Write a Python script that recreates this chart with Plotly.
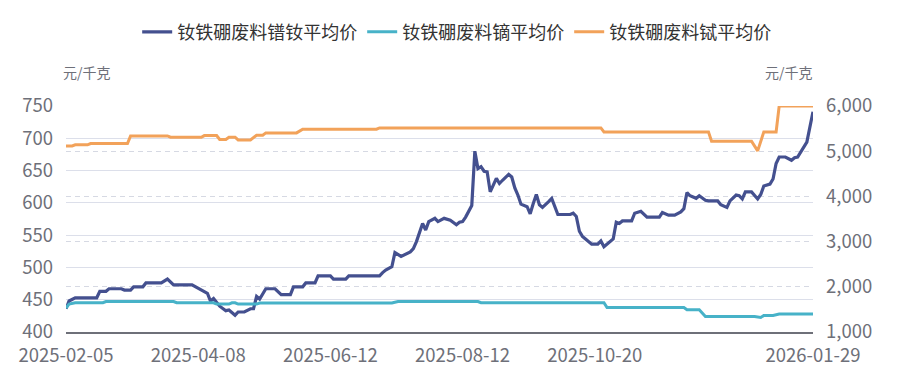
import plotly.graph_objects as go

# ---- data (x = trading-day index) ----
tick_idx = [0, 43, 86, 129, 172, 243]
tick_text = ["2025-02-05", "2025-04-08", "2025-06-12", "2025-08-12", "2025-10-20", "2026-01-29"]

series_names = ["钕铁硼废料镨钕平均价", "钕铁硼废料镝平均价", "钕铁硼废料铽平均价"]

prnd_idx = [0, 1, 3, 10, 11, 13, 14, 18, 19, 21, 22, 25, 26, 31, 33, 35, 41, 44, 46, 47, 48, 50, 52, 53, 55, 56, 58, 60,
            61, 62, 63, 65, 68, 70, 73, 74, 77, 78, 81, 82, 86, 87, 91, 92, 102, 103, 104, 106, 107, 109, 110, 112, 113,
            114, 116, 117, 118, 120, 121, 123, 125, 127, 128, 129, 130, 131, 132, 133, 134, 135, 136, 137, 138, 140, 141,
            142, 144, 145, 146, 147, 148, 150, 151, 152, 153, 154, 155, 157, 158, 160, 164, 165, 166, 167, 168, 169, 171,
            173, 174, 175, 177, 178, 179, 180, 181, 184, 185, 187, 189, 193, 194, 196, 198, 200, 201, 202, 203, 205, 206,
            208, 209, 212, 213, 215, 216, 218, 219, 220, 221, 223, 225, 226, 227, 229, 230, 231, 232, 234, 236, 237, 238,
            240, 241, 243]
prnd_val = [436, 448, 453, 453, 463, 463, 467, 467, 465, 465, 470, 470, 476, 476, 482, 473, 473, 465, 460, 448, 452, 440,
            433, 434, 426, 431, 431, 436, 436, 455, 451, 467, 467, 458, 458, 470, 470, 476, 476, 487, 487, 482, 482, 487,
            487, 492, 496, 501, 523, 517, 519, 524, 529, 540, 568, 558, 571, 576, 571, 576, 573, 566, 570, 571, 578, 586,
            596, 680, 653, 656, 649, 648, 617, 638, 630, 635, 644, 640, 623, 612, 598, 594, 583, 599, 613, 597, 593, 602,
            607, 582, 582, 584, 579, 556, 548, 544, 536, 536, 541, 532, 541, 544, 570, 568, 572, 572, 584, 587, 578, 578,
            585, 581, 581, 586, 591, 616, 611, 607, 611, 604, 603, 603, 597, 593, 603, 612, 611, 606, 617, 617, 606, 613,
            626, 629, 637, 661, 671, 671, 666, 670, 671, 687, 694, 741]

dy_idx = [0, 1, 3, 12, 13, 35, 36, 48, 49, 53, 54, 55, 56, 62, 63, 106, 108, 134, 135, 175, 176, 201, 202, 206, 208,
          224, 226, 227, 230, 232, 243]
dy_val = [1530, 1618, 1647, 1647, 1675, 1675, 1647, 1647, 1618, 1618, 1647, 1647, 1618, 1618, 1640, 1640, 1675, 1675,
          1647, 1647, 1540, 1540, 1492, 1492, 1345, 1345, 1322, 1366, 1366, 1397, 1397]

tb_idx = [0, 2, 3, 7, 8, 20, 21, 33, 34, 44, 45, 49, 50, 52, 53, 55, 56, 60, 62, 64, 65, 75, 77, 101, 102, 174, 175,
          209, 210, 223, 225, 227, 231, 232, 243]
tb_val = [5117, 5117, 5140, 5140, 5170, 5170, 5338, 5338, 5309, 5309, 5346, 5346, 5258, 5258, 5309, 5309, 5250, 5250,
          5354, 5354, 5405, 5405, 5486, 5486, 5515, 5515, 5427, 5427, 5221, 5221, 5007, 5427, 5427, 6000, 6000]

colors = ["#44508f", "#47b2c8", "#f2a25a"]

FONT = "Noto Sans CJK SC, Noto Sans, sans-serif"
AXIS_TXT = "#6e7079"
GRID = "#dcdfea"
GRID2 = "#d6d9e3"

fig = go.Figure()
fig.add_trace(go.Scatter(x=prnd_idx, y=prnd_val, name=series_names[0], mode="lines",
                         line=dict(color=colors[0], width=3.2), yaxis="y"))
fig.add_trace(go.Scatter(x=dy_idx, y=dy_val, name=series_names[1], mode="lines",
                         line=dict(color=colors[1], width=3), yaxis="y2"))
fig.add_trace(go.Scatter(x=tb_idx, y=tb_val, name=series_names[2], mode="lines",
                         line=dict(color=colors[2], width=3), yaxis="y2"))

# the page body adds an 8px offset, so margins are shifted by 8px
fig.update_layout(
    width=915, height=376,
    margin=dict(l=58, r=110, t=98, b=52, autoexpand=False),
    paper_bgcolor="white", plot_bgcolor="white",
    font=dict(family=FONT, size=18.5, color=AXIS_TXT),
    showlegend=True,
    legend=dict(orientation="h", x=0.523, xanchor="center", y=1.327, yanchor="middle",
                font=dict(size=18, color="#333333"), itemwidth=30, traceorder="normal"),
    xaxis=dict(range=[0, 243], tickmode="array", tickvals=tick_idx, ticktext=tick_text,
               showgrid=False, zeroline=False, showline=True, linecolor="#6e7079", linewidth=1.5,
               ticks="", ticklabelstandoff=6, tickfont=dict(size=18.5, color=AXIS_TXT)),
    yaxis=dict(range=[400, 750], dtick=50, tick0=400, showgrid=True, gridcolor=GRID, gridwidth=1.2,
               zeroline=False, showline=False, ticks="", ticklabelstandoff=12,
               tickfont=dict(size=18.5, color=AXIS_TXT)),
    yaxis2=dict(range=[1000, 6000], dtick=1000, tick0=1000, overlaying="y", side="right",
                showgrid=True, gridcolor=GRID2, gridwidth=1.2, griddash="5px,4px",
                zeroline=False, showline=False, ticks="", ticklabelstandoff=12, tickformat=",",
                tickfont=dict(size=18.5, color=AXIS_TXT)),
    annotations=[
        dict(text="元/千克", xref="paper", yref="paper", x=0, y=1.15, xanchor="left", yanchor="middle",
             xshift=-5, showarrow=False, font=dict(size=14, color=AXIS_TXT, family=FONT)),
        dict(text="元/千克", xref="paper", yref="paper", x=1, y=1.15, xanchor="right", yanchor="middle",
             xshift=2, showarrow=False, font=dict(size=14, color=AXIS_TXT, family=FONT)),
    ],
)

fig.write_html("out.html")
